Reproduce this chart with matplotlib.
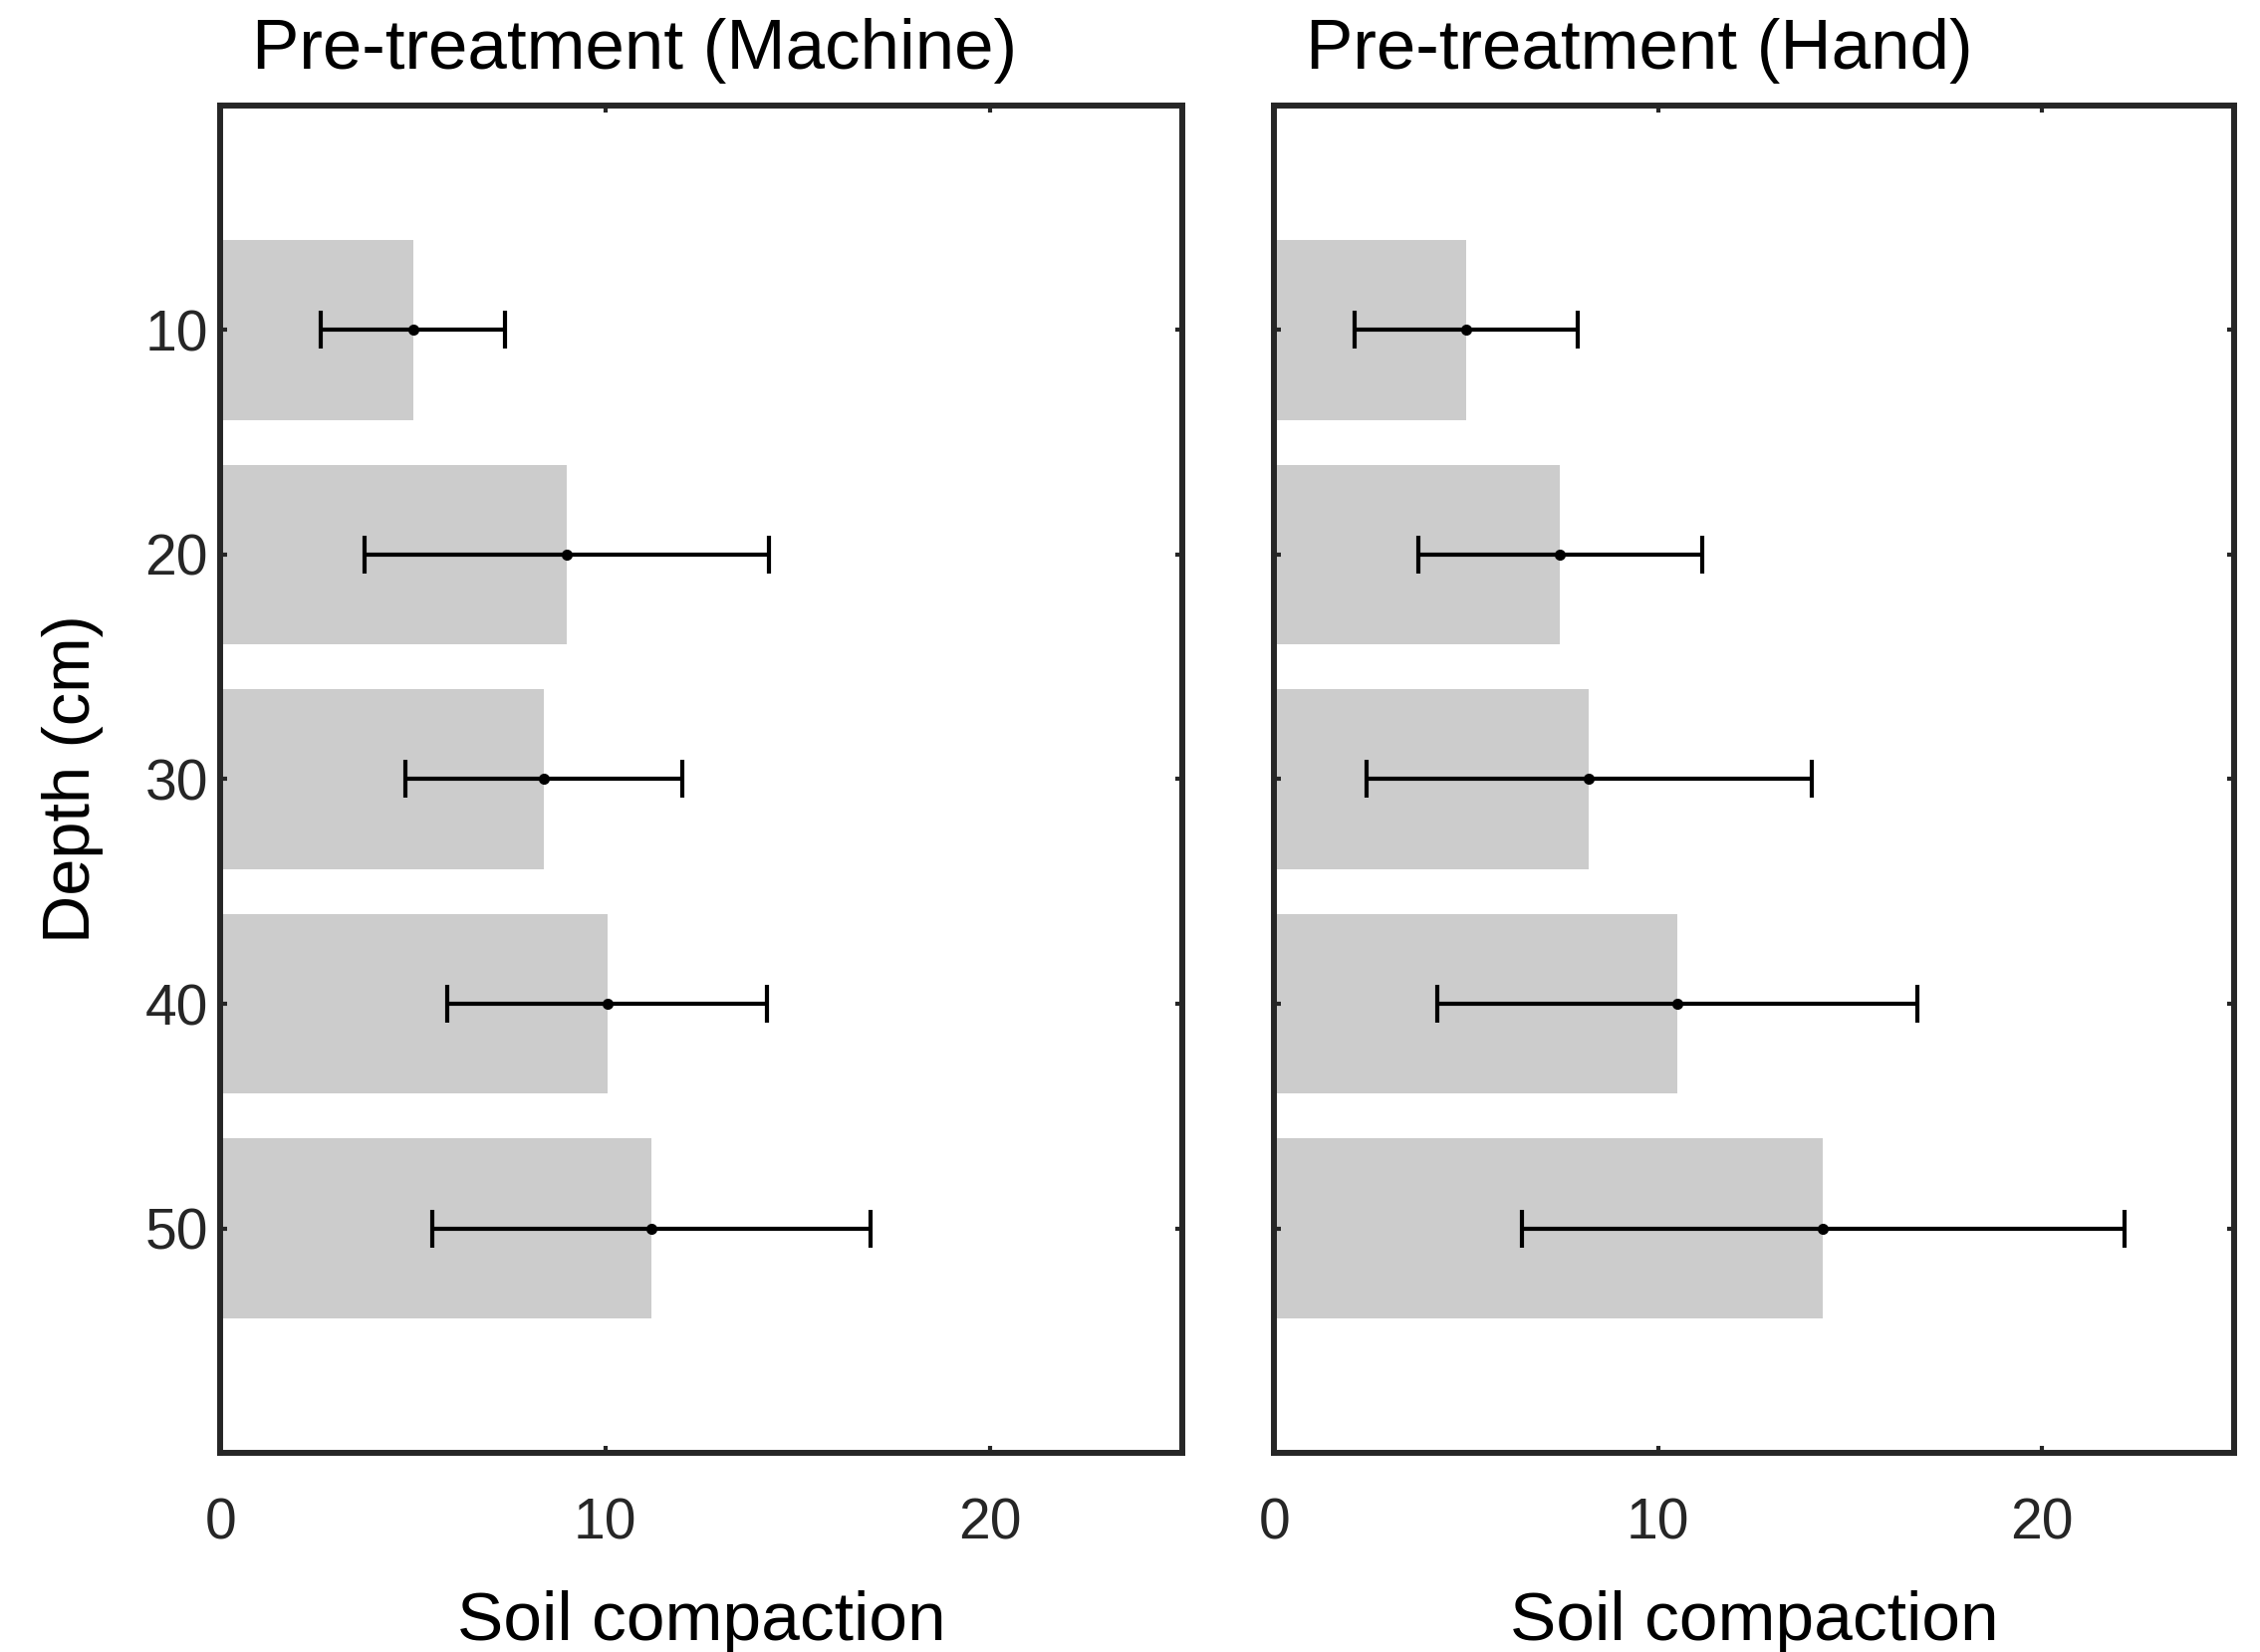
import matplotlib
matplotlib.use('Agg')
import matplotlib.pyplot as plt
import numpy as np

plt.rcParams['font.family'] = ['Liberation Sans', 'DejaVu Sans']

# depth (cm) and soil compaction values
depth = [10, 20, 30, 40, 50]
machine_mean = [5.0, 9.0, 8.4, 10.05, 11.2]
machine_err = [2.4, 5.25, 3.6, 4.15, 5.7]
hand_mean = [5.0, 7.45, 8.2, 10.5, 14.3]
hand_err = [2.9, 3.7, 5.8, 6.25, 7.85]
titles = ['Pre-treatment (Machine)', 'Pre-treatment (Hand)']

fig = plt.figure(figsize=(22.69, 16.59), dpi=100)
ax1 = fig.add_axes([0.0976, 0.1204, 0.4255, 0.8159])
ax2 = fig.add_axes([0.5638, 0.1204, 0.4247, 0.8159])

spine_col = '#262626'
for ax, mean, err, title in [(ax1, machine_mean, machine_err, titles[0]),
                              (ax2, hand_mean, hand_err, titles[1])]:
    ax.barh(depth, mean, height=8, color='#cccccc', edgecolor='none')
    ax.errorbar(mean, depth, xerr=err, fmt='o', color='black', ms=7,
                elinewidth=3, capsize=14, capthick=3)
    ax.set_xlim(0, 25)
    ax.set_ylim(60, 0)
    ax.set_xticks([0, 10, 20])
    ax.set_yticks(depth)
    for s in ax.spines.values():
        s.set_linewidth(4.3)
        s.set_color(spine_col)
    ax.tick_params(direction='in', length=5, width=3, color=spine_col,
                   top=True, right=True, labelsize=41, labelcolor='#262626')
    ax.tick_params(axis='x', pad=32)
    ax.tick_params(axis='y', pad=9)
    ax.set_xlabel('Soil compaction', fontsize=50, labelpad=28)
    ax.text(0.033, 1.027, title, transform=ax.transAxes, ha='left',
            va='baseline', fontsize=51)

ax1.set_ylabel('Depth (cm)', fontsize=48, labelpad=30)
ax2.set_yticklabels([])

fig.savefig('out.png', dpi=100)
